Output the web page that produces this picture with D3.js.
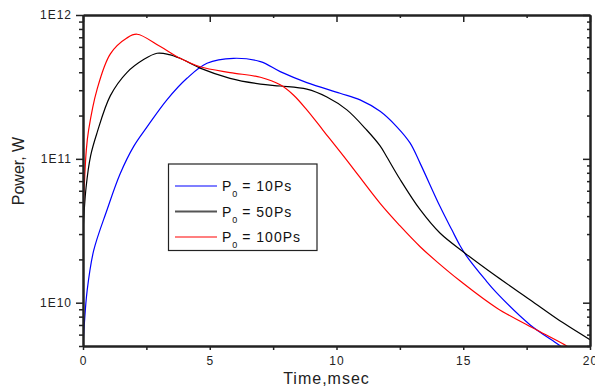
<!DOCTYPE html>
<html>
<head>
<meta charset="utf-8">
<script src="https://cdn.jsdelivr.net/npm/d3@7"></script>
<style>
  html, body { margin: 0; padding: 0; background: #fff; }
  svg { display: block; font-family: "Liberation Sans", Arial, sans-serif; }
  .axis path { stroke: #222; stroke-width: 2; }
  .axis line { stroke: #222; stroke-width: 1.5; }
  .axis text { fill: #222; font-size: 12px; letter-spacing: 1px; }
  .series { fill: none; stroke-width: 1.2; stroke-linejoin: round; }
  .axis-label { fill: #222; font-size: 16px; }
  .legend text { fill: #111; font-size: 14px; letter-spacing: 1px; }
</style>
</head>
<body>
<svg width="595" height="389"></svg>
<script>
// time, msec
const timeA = [0, 0.05, 0.16, 0.42, 0.95, 1.47, 2.0, 2.52, 3.31, 4.1, 4.89, 5.94, 7.0, 7.78, 8.83,
  10.14, 10.93, 11.72, 12.38, 12.9, 13.3, 14.08, 14.55, 14.87, 15.14, 15.86, 16.32, 17.63, 18.75, 19.2];
const powerA = [5.0e9, 7.0e9, 1.2e10, 2.3e10, 4.43e10, 7.9e10, 1.22e11, 1.66e11, 2.57e11, 3.63e11, 4.62e11,
  5.0e11, 4.74e11, 4.04e11, 3.39e11, 2.86e11, 2.57e11, 2.14e11, 1.67e11, 1.29e11, 9.3e10, 4.68e10, 3.21e10,
  2.5e10, 2.1e10, 1.45e10, 1.17e10, 7.03e9, 5.13e9, 4.5e9];

const timeB = [0, 0.12, 0.3, 0.55, 1.08, 1.73, 2.39, 2.92, 3.4, 3.83, 4.62, 5.8, 7.0, 7.78, 8.83, 9.62, 10.41,
  11.2, 11.72, 11.98, 12.5, 13.3, 14.08, 15.07, 16.32, 17.63, 18.94, 20];
const powerB = [3.1e10, 6.3e10, 1.05e11, 1.51e11, 2.75e11, 3.98e11, 4.9e11, 5.42e11, 5.31e11, 5.0e11, 4.27e11,
  3.63e11, 3.31e11, 3.21e11, 3.05e11, 2.69e11, 2.19e11, 1.58e11, 1.23e11, 1.035e11, 7.24e10, 4.43e10, 3.05e10,
  2.21e10, 1.52e10, 1.05e10, 7.24e9, 5.53e9];

const timeC = [0, 0.13, 0.22, 0.55, 1.08, 1.73, 2.13, 3.05, 3.83, 4.62, 5.8, 7.0, 7.78, 8.3, 8.83, 9.47, 10.41,
  11.72, 12.5, 13.3, 14.0, 14.87, 16.32, 17.9, 19.08, 19.3];
const powerC = [4.0e10, 1.15e11, 1.58e11, 3.02e11, 5.37e11, 6.92e11, 7.35e11, 6.03e11, 5.0e11, 4.37e11, 3.98e11,
  3.69e11, 3.27e11, 2.78e11, 2.19e11, 1.58e11, 9.77e10, 4.9e10, 3.43e10, 2.45e10, 1.9e10, 1.42e10, 9.2e9,
  6.46e9, 5.0e9, 4.7e9];

const seriesNames = ['10Ps', '50Ps', '100Ps'];
const seriesColors = ['#0000ff', '#000000', '#ff0000'];

const xMajor = [0, 5, 10, 15, 20];
const xMinor = [2.5, 7.5, 12.5, 17.5];
const yMajor = [1e10, 1e11, 1e12];
const yMajorLabels = ['1E10', '1E11', '1E12'];
const yMinor = [5e9, 6e9, 7e9, 8e9, 9e9, 2e10, 3e10, 4e10, 5e10, 6e10, 7e10, 8e10, 9e10,
  2e11, 3e11, 4e11, 5e11, 6e11, 7e11, 8e11, 9e11];

const plotL = 83, plotR = 590, plotT = 15, plotB = 346;

const svg = d3.select('svg');

const x = d3.scaleLinear().domain([0, 20]).range([plotL, plotR]);
const y = d3.scaleLog().domain([5e9, 1e12]).range([plotB, plotT]);

svg.append('defs').append('clipPath').attr('id', 'plot-clip')
  .append('rect')
  .attr('x', plotL).attr('y', plotT)
  .attr('width', plotR - plotL).attr('height', plotB - plotT);

// curves
const series = [
  { t: timeA, p: powerA },
  { t: timeB, p: powerB },
  { t: timeC, p: powerC }
];

const line = d3.line()
  .x(d => x(d[0]))
  .y(d => y(d[1]))
  .curve(d3.curveCatmullRom.alpha(0.5));

const plot = svg.append('g').attr('clip-path', 'url(#plot-clip)');
series.forEach((s, i) => {
  plot.append('path')
    .datum(s.t.map((t, j) => [t, s.p[j]]))
    .attr('class', 'series')
    .attr('stroke', seriesColors[i])
    .attr('d', line);
});

// bottom axis
svg.append('g').attr('class', 'axis')
  .attr('transform', `translate(0,${plotB})`)
  .call(d3.axisBottom(x).tickValues(xMajor).tickSize(4).tickPadding(6).tickSizeOuter(0)
    .tickFormat(d3.format('d')));
svg.append('g').attr('class', 'axis')
  .attr('transform', `translate(0,${plotB})`)
  .call(d3.axisBottom(x).tickValues(xMinor).tickSize(4).tickSizeOuter(0).tickFormat(''));

// top axis (ticks inside)
svg.append('g').attr('class', 'axis')
  .attr('transform', `translate(0,${plotT})`)
  .call(d3.axisBottom(x).tickValues(xMajor).tickSize(7).tickSizeOuter(0).tickFormat(''));
svg.append('g').attr('class', 'axis')
  .attr('transform', `translate(0,${plotT})`)
  .call(d3.axisBottom(x).tickValues(xMinor).tickSize(3).tickSizeOuter(0).tickFormat(''));

// left axis
svg.append('g').attr('class', 'axis')
  .attr('transform', `translate(${plotL},0)`)
  .call(d3.axisLeft(y).tickValues(yMajor).tickSize(7).tickPadding(4).tickSizeOuter(0)
    .tickFormat((d, i) => yMajorLabels[i]));
svg.append('g').attr('class', 'axis')
  .attr('transform', `translate(${plotL},0)`)
  .call(d3.axisLeft(y).tickValues(yMinor).tickSize(4).tickSizeOuter(0).tickFormat(''));

// right axis (ticks inside)
svg.append('g').attr('class', 'axis')
  .attr('transform', `translate(${plotR},0)`)
  .call(d3.axisRight(y).tickValues(yMajor).tickSize(-7).tickSizeOuter(0).tickFormat(''));
svg.append('g').attr('class', 'axis')
  .attr('transform', `translate(${plotR},0)`)
  .call(d3.axisRight(y).tickValues(yMinor).tickSize(-3).tickSizeOuter(0).tickFormat(''));

// axis titles
svg.append('text')
  .attr('class', 'axis-label')
  .attr('x', (plotL + plotR) / 2 - 10)
  .attr('y', 384)
  .attr('text-anchor', 'middle')
  .style('letter-spacing', '1px')
  .text('Time,msec');

svg.append('text')
  .attr('class', 'axis-label')
  .attr('transform', 'translate(24,171) rotate(-90)')
  .attr('text-anchor', 'middle')
  .text('Power, W');

// legend
const legend = svg.append('g').attr('class', 'legend');
legend.append('rect')
  .attr('x', 168.5).attr('y', 164)
  .attr('width', 148.5).attr('height', 86.5)
  .attr('fill', '#fff').attr('stroke', '#222').attr('stroke-width', 1.2);

const rowY = [186, 211.5, 237];
seriesNames.forEach((name, i) => {
  legend.append('line')
    .attr('x1', 175).attr('x2', 217)
    .attr('y1', rowY[i]).attr('y2', rowY[i])
    .attr('stroke', i === 1 ? '#555' : seriesColors[i])
    .attr('stroke-width', i === 1 ? 1.8 : 1.2);
  const t = legend.append('text')
    .attr('x', 222).attr('y', rowY[i] + 5);
  t.append('tspan').text('P');
  t.append('tspan').attr('dy', 6).style('font-size', '9px').style('letter-spacing', '0px').text('0');
  t.append('tspan').attr('dy', -6).text(' = ' + name);
});
</script>
</body>
</html>
